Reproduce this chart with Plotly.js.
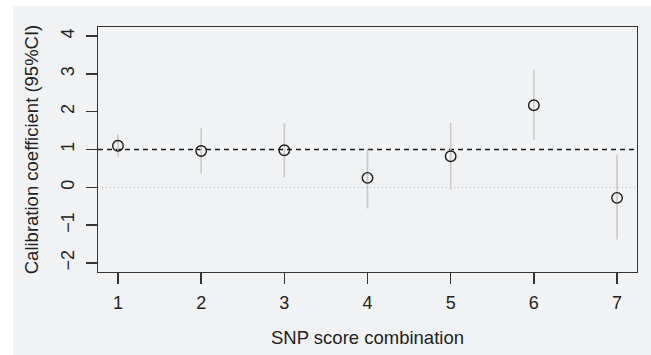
<!DOCTYPE html>
<html>
<head>
<meta charset="utf-8">
<script src="https://cdn.plot.ly/plotly-3.0.1.min.js"></script>
<style>html,body{margin:0;padding:0;background:#fff;}#chart{width:651px;height:355px;}</style>
</head>
<body>
<div id="chart"></div>
<script>
var combos = [1, 2, 3, 4, 5, 6, 7];
var coef = [1.10, 0.96, 0.98, 0.25, 0.82, 2.17, -0.28];
var ciLow = [0.81, 0.37, 0.26, -0.56, -0.06, 1.25, -1.38];
var ciHigh = [1.40, 1.56, 1.69, 1.02, 1.70, 3.11, 0.85];
var refLine = 1;
var zeroLine = 0;
var yTicks = [-2, -1, 0, 1, 2, 3, 4];

var plus = coef.map(function(v, i){ return ciHigh[i] - v; });
var minus = coef.map(function(v, i){ return v - ciLow[i]; });

var font = {family: 'Liberation Sans, Arial, Helvetica, sans-serif', color: '#222'};

var trace = {
  x: combos, y: coef, type: 'scatter', mode: 'markers',
  marker: {symbol: 'circle-open', size: 10.5, color: '#1a1a1a', line: {width: 1.4, color: '#1a1a1a'}},
  error_y: {type: 'data', symmetric: false, array: plus, arrayminus: minus, width: 0, thickness: 1.6, color: '#c8c8c8'},
  hoverinfo: 'x+y'
};

var layout = {
  width: 651, height: 355,
  margin: {l: 98, r: 14, t: 27, b: 83},
  paper_bgcolor: '#ffffff',
  plot_bgcolor: 'rgba(0,0,0,0)',
  showlegend: false,
  font: font,
  xaxis: {
    range: [0.76, 7.24], tickvals: combos, ticktext: combos.map(String),
    showgrid: false, zeroline: false,
    showline: true, mirror: true, linecolor: '#333', linewidth: 1.3,
    ticks: 'outside', ticklen: 11, tickwidth: 1.3, tickcolor: '#333',
    ticklabelstandoff: 3,
    tickfont: {size: 18, color: '#222', family: font.family},
    title: {text: 'SNP score combination', font: {size: 18.5, color: '#222', family: font.family}, standoff: 19},
    automargin: false
  },
  yaxis: {
    range: [-2.24, 4.24], tickvals: yTicks, ticktext: yTicks.map(function(v){ return v < 0 ? '\u2212' + Math.abs(v) : String(v); }),
    showgrid: false, zeroline: false,
    showline: true, mirror: true, linecolor: '#333', linewidth: 1.3,
    ticks: 'outside', ticklen: 11, tickwidth: 1.3, tickcolor: '#333',
    tickangle: -90,
    ticklabelstandoff: 5,
    tickfont: {size: 18, color: '#222', family: font.family},
    title: {text: 'Calibration coefficient (95%CI)', font: {size: 18.5, color: '#222', family: font.family}, standoff: 14},
    automargin: false
  },
  shapes: [
    {type: 'rect', xref: 'paper', yref: 'paper', x0: -0.1577, x1: 1.1, y0: -0.4, y1: 1.0857,
     fillcolor: '#f1f2f4', line: {width: 0}, layer: 'below'},
    {type: 'line', xref: 'paper', yref: 'y', x0: 0, x1: 1, y0: zeroLine, y1: zeroLine,
     line: {color: '#bdbdbd', width: 1.2, dash: '1px,3px'}, layer: 'below'},
    {type: 'line', xref: 'paper', yref: 'y', x0: 0, x1: 1, y0: refLine, y1: refLine,
     line: {color: '#1a1a1a', width: 1.3, dash: '5px,4px'}, layer: 'below'}
  ]
};

Plotly.newPlot('chart', [trace], layout, {displayModeBar: false, staticPlot: true});
</script>
</body>
</html>
